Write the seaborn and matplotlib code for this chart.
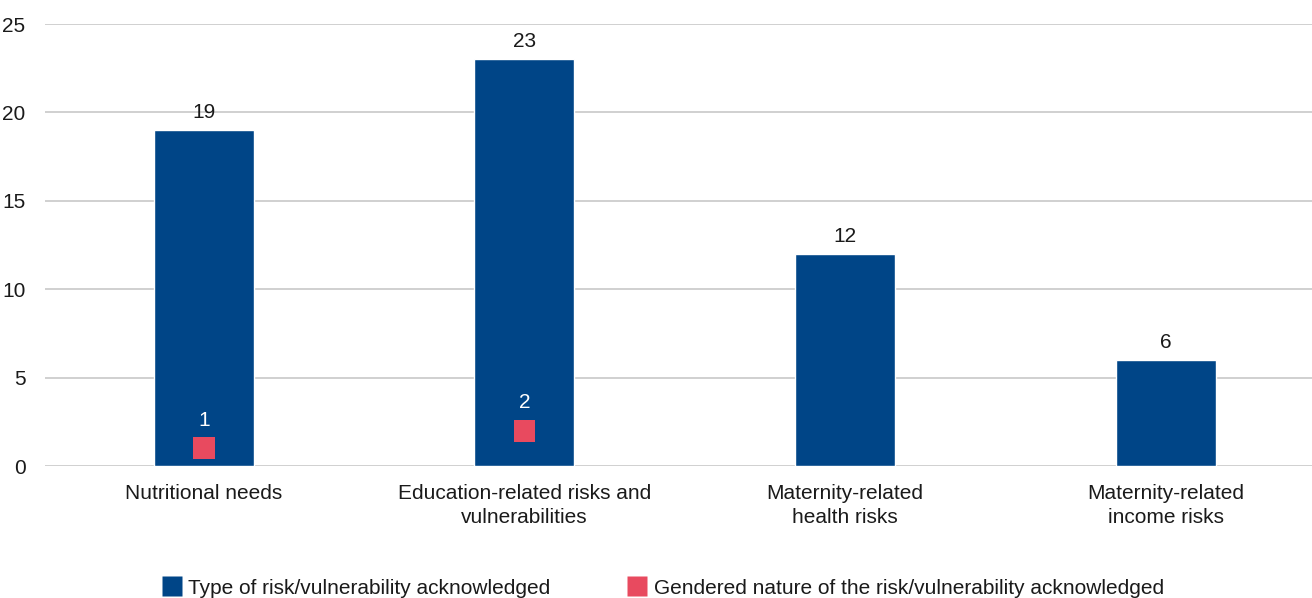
import matplotlib
matplotlib.use("Agg")
import matplotlib.pyplot as plt
import seaborn as sns
import pandas as pd
from matplotlib.lines import Line2D

categories = ["Nutritional needs",
              "Education-related risks and\nvulnerabilities",
              "Maternity-related\nhealth risks",
              "Maternity-related\nincome risks"]
risk_type = [19, 23, 12, 6]
gendered_cats = ["Nutritional needs", "Education-related risks and\nvulnerabilities"]
gendered = [1, 2]
series_names = ["Type of risk/vulnerability acknowledged",
                "Gendered nature of the risk/vulnerability acknowledged"]

BLUE = "#004587"
PINK = "#E84A5F"
TEXT = "#1a1a1a"
FS = 15

sns.set_theme(style="white")
plt.rcParams["font.family"] = ["Liberation Sans", "DejaVu Sans"]
plt.rcParams["text.color"] = TEXT

df_bars = pd.DataFrame({"category": categories, "value": risk_type})
df_pts = pd.DataFrame({"category": gendered_cats, "value": gendered})

fig = plt.figure(figsize=(13.12, 5.98), dpi=100)
ax = fig.add_axes([45 / 1312, (598 - 466) / 598, (1312 - 45) / 1312, (466 - 24) / 598])

sns.barplot(data=df_bars, x="category", y="value", order=categories,
            color=BLUE, width=0.312, saturation=1, ax=ax, zorder=2)
sns.scatterplot(data=df_pts, x="category", y="value", marker="s", s=250,
                color=PINK, edgecolor="none", ax=ax, zorder=3, legend=False)

for i, v in enumerate(risk_type):
    ax.text(i, v + 1.0, str(v), ha="center", va="center", fontsize=FS, color=TEXT)
for c, v in zip(gendered_cats, gendered):
    i = categories.index(c)
    ax.text(i, v + 1.6, str(v), ha="center", va="center", fontsize=FS, color="white", zorder=4)

ax.set_xlim(-0.496, 3.457)
ax.set_ylim(0, 25)
ax.set_yticks([0, 5, 10, 15, 20, 25])
ax.yaxis.grid(True, color="#c8c8c8", linewidth=1.2, zorder=0)
ax.set_axisbelow(True)
for s in ax.spines.values():
    s.set_visible(False)
ax.set_xlabel("")
ax.set_ylabel("")
ax.tick_params(axis="y", length=0, pad=14, labelsize=FS, labelcolor=TEXT)
ax.tick_params(axis="x", length=0, pad=13, labelsize=FS, labelcolor=TEXT)
for lbl in ax.get_yticklabels():
    lbl.set_horizontalalignment("right")
for lbl in ax.get_xticklabels():
    lbl.set_linespacing(1.3)

handles = [Line2D([0], [0], marker="s", linestyle="none", markersize=14.5,
                  markerfacecolor=BLUE, markeredgecolor="none"),
           Line2D([0], [0], marker="s", linestyle="none", markersize=14.5,
                  markerfacecolor=PINK, markeredgecolor="none")]
fig.legend(handles, series_names, loc="center", bbox_to_anchor=(664 / 1312, 1 - 588 / 598),
           ncol=2, frameon=False, fontsize=FS, handlelength=0.7, handletextpad=0.45,
           columnspacing=3.8, borderaxespad=0, borderpad=0)

fig.savefig("out.png", dpi=100)
